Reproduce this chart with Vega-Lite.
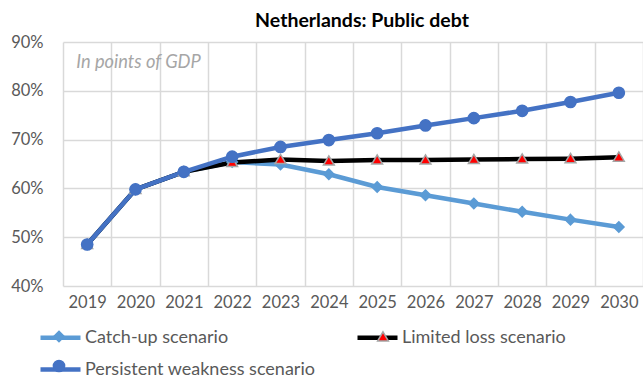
{
  "$schema": "https://vega.github.io/schema/vega-lite/v6.json",
  "width": 580,
  "height": 244,
  "autosize": "none",
  "padding": {"left": 63, "top": 42, "right": 0, "bottom": 96},
  "title": {"text": "Netherlands: Public debt", "font": "Lato", "fontSize": 19.5, "fontWeight": "bold", "color": "#000000", "anchor": "middle", "frame": "group", "dx": 9, "offset": 3},
  "config": {"view": {"stroke": null}, "font": "Lato"},
  "data": {"values": [
    {"year": "2019", "series": "Catch-up scenario", "value": 48.5},
    {"year": "2020", "series": "Catch-up scenario", "value": 59.8},
    {"year": "2021", "series": "Catch-up scenario", "value": 63.4},
    {"year": "2022", "series": "Catch-up scenario", "value": 65.4},
    {"year": "2023", "series": "Catch-up scenario", "value": 64.9},
    {"year": "2024", "series": "Catch-up scenario", "value": 62.9},
    {"year": "2025", "series": "Catch-up scenario", "value": 60.3},
    {"year": "2026", "series": "Catch-up scenario", "value": 58.6},
    {"year": "2027", "series": "Catch-up scenario", "value": 56.9},
    {"year": "2028", "series": "Catch-up scenario", "value": 55.2},
    {"year": "2029", "series": "Catch-up scenario", "value": 53.6},
    {"year": "2030", "series": "Catch-up scenario", "value": 52.1},
    {"year": "2019", "series": "Limited loss scenario", "value": 48.5},
    {"year": "2020", "series": "Limited loss scenario", "value": 59.8},
    {"year": "2021", "series": "Limited loss scenario", "value": 63.4},
    {"year": "2022", "series": "Limited loss scenario", "value": 65.3},
    {"year": "2023", "series": "Limited loss scenario", "value": 65.9},
    {"year": "2024", "series": "Limited loss scenario", "value": 65.6},
    {"year": "2025", "series": "Limited loss scenario", "value": 65.8},
    {"year": "2026", "series": "Limited loss scenario", "value": 65.8},
    {"year": "2027", "series": "Limited loss scenario", "value": 65.9},
    {"year": "2028", "series": "Limited loss scenario", "value": 66.0},
    {"year": "2029", "series": "Limited loss scenario", "value": 66.1},
    {"year": "2030", "series": "Limited loss scenario", "value": 66.4},
    {"year": "2019", "series": "Persistent weakness scenario", "value": 48.5},
    {"year": "2020", "series": "Persistent weakness scenario", "value": 59.8},
    {"year": "2021", "series": "Persistent weakness scenario", "value": 63.4},
    {"year": "2022", "series": "Persistent weakness scenario", "value": 66.5},
    {"year": "2023", "series": "Persistent weakness scenario", "value": 68.5},
    {"year": "2024", "series": "Persistent weakness scenario", "value": 69.9},
    {"year": "2025", "series": "Persistent weakness scenario", "value": 71.3},
    {"year": "2026", "series": "Persistent weakness scenario", "value": 72.9},
    {"year": "2027", "series": "Persistent weakness scenario", "value": 74.4},
    {"year": "2028", "series": "Persistent weakness scenario", "value": 75.9},
    {"year": "2029", "series": "Persistent weakness scenario", "value": 77.7},
    {"year": "2030", "series": "Persistent weakness scenario", "value": 79.6}
  ]},
  "encoding": {
    "x": {"field": "year", "type": "ordinal", "scale": {"type": "band", "paddingInner": 0, "paddingOuter": 0},
      "axis": {"title": null, "tickBand": "extent", "grid": true, "gridColor": "#D9D9D9", "gridWidth": 1.5, "domain": false, "ticks": false, "labelAngle": 0, "labelPadding": 8, "labelFont": "Lato", "labelFontSize": 16.5, "labelColor": "#595959"}},
    "y": {"field": "value", "type": "quantitative", "scale": {"domain": [40, 90], "nice": false, "zero": false},
      "axis": {"title": null, "values": [40, 50, 60, 70, 80, 90], "labelExpr": "datum.value + '%'", "grid": true, "gridColor": "#D9D9D9", "gridWidth": 1.5, "domain": false, "ticks": false, "labelPadding": 20, "labelFont": "Lato", "labelFontSize": 16.5, "labelColor": "#595959"}}
  },
  "layer": [
    {
      "mark": {"type": "line", "strokeWidth": 4.5},
      "encoding": {
        "color": {"field": "series", "type": "nominal",
          "scale": {"domain": ["Catch-up scenario", "Limited loss scenario", "Persistent weakness scenario"], "range": ["#5B9BD5", "#000000", "#4472C4"]},
          "legend": {"orient": "none", "direction": "horizontal", "legendX": -25, "legendY": 273, "columns": 2, "symbolType": "stroke", "symbolSize": 1600, "symbolStrokeWidth": 4.5, "labelFont": "Lato", "labelFontSize": 18, "labelColor": "#595959", "labelOffset": 2, "labelLimit": 400, "title": null, "columnPadding": 32, "rowPadding": -8, "padding": 0}}
      }
    },
    {
      "transform": [{"calculate": "datum.series", "as": "s2"}],
      "mark": {"type": "point", "filled": true, "opacity": 1, "strokeWidth": 1.5, "size": 1600},
      "encoding": {
        "fill": {"field": "s2", "type": "nominal",
          "scale": {"range": ["#5B9BD5", "#FF0000", "#4472C4"]},
          "legend": {"orient": "none", "direction": "horizontal", "legendX": -25, "legendY": 273, "columns": 2, "symbolSize": 1600, "symbolStrokeWidth": 1.5, "labelExpr": "''", "labelOffset": 0, "title": null, "columnPadding": 282, "rowPadding": -8, "padding": 0}},
        "stroke": {"field": "s2", "type": "nominal",
          "scale": {"range": ["#5B9BD5", "#A5A5A5", "#4472C4"]}},
        "shape": {"field": "s2", "type": "nominal",
          "scale": {"range": ["M0,-0.26L0.26,0L0,0.26L-0.26,0Z", "M0,-0.26L0.27,0.2L-0.27,0.2Z", "M0.28,0A0.28,0.28,0,1,1,-0.28,0A0.28,0.28,0,1,1,0.28,0Z"]}}
      }
    },
    {
      "transform": [{"filter": "datum.year == '2019' && datum.series == 'Persistent weakness scenario'"}],
      "mark": {"type": "text", "text": "In points of GDP", "align": "left", "baseline": "middle", "font": "Lato", "fontSize": 18.3, "fontStyle": "italic", "color": "#A6A6A6", "dx": -11},
      "encoding": {
        "y": {"datum": 85.7}
      }
    }
  ]
}
